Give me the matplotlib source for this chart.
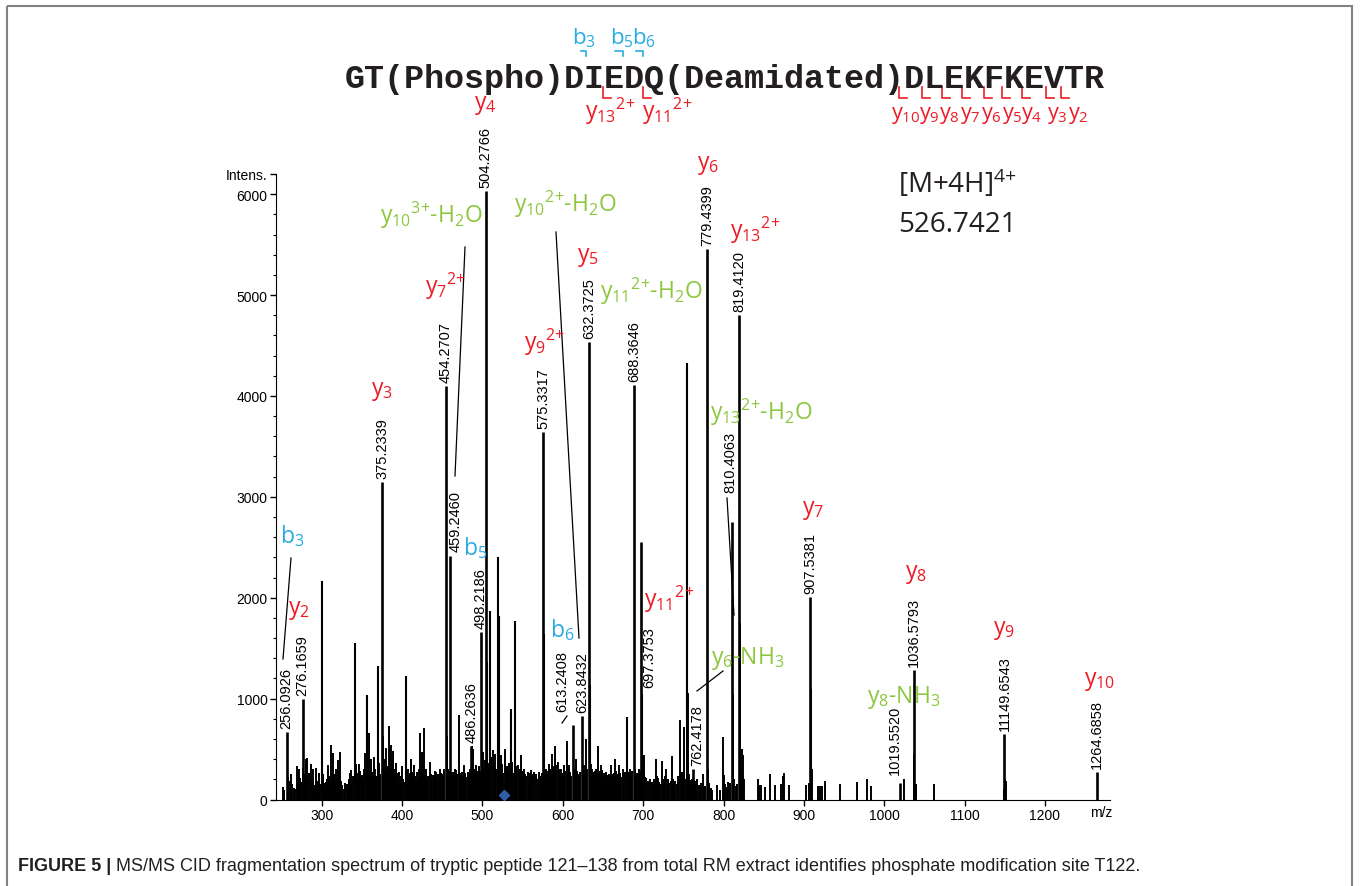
import matplotlib
matplotlib.use("Agg")
import matplotlib.pyplot as plt
import matplotlib.transforms as mtransforms
from matplotlib.lines import Line2D
from matplotlib.patches import Rectangle
from matplotlib.ticker import MultipleLocator

W, H = 1360, 887

RED = "#ED1C24"
BLUE = "#29ABE2"
GREEN = "#8DC63F"
INK = "#231F20"

plt.rcParams.update({
    "font.family": "Liberation Sans",
    "mathtext.default": "regular",
})

# ── Data ─────────────────────────────────────────────────────────────────────

# annotated peaks (label text kept as printed, incl. "11149.6543")
lab_mz = [256.0926, 276.1659, 375.2339, 454.2707, 459.2460, 486.2636, 498.2186,
          504.2766, 575.3317, 613.2408, 623.8432, 632.3725, 688.3646, 697.3753,
          762.4178, 779.4399, 810.4063, 819.4120, 907.5381, 1019.5520, 1036.5793,
          1149.6543, 1264.6858]
lab_int = [665, 1000, 3150, 4100, 2415, 530, 1660,
           6030, 3640, 735, 825, 4530, 4110, 2550,
           300, 5455, 2750, 4800, 2005, 160, 1287,
           649, 269]
lab_txt = ["256.0926", "276.1659", "375.2339", "454.2707", "459.2460", "486.2636",
           "498.2186", "504.2766", "575.3317", "613.2408", "623.8432", "632.3725",
           "688.3646", "697.3753", "762.4178", "779.4399", "810.4063", "819.4120",
           "907.5381", "1019.5520", "1036.5793", "11149.6543", "1264.6858"]

# larger unlabelled peaks
big_mz = [299.8, 340.9, 355.8, 369.9, 404.8, 505.2, 509.3, 518.9, 520.2,
          535.1, 540.5, 576.6, 633.8, 679.5, 698.4, 754.2]
big_int = [2169, 1551, 1036, 1326, 1227, 1360, 1865, 2403, 1822,
           897, 1772, 1640, 1138, 815, 1050, 4323]

# small peaks / chemical noise
noise_mz = [
    251.8, 253.2, 257.4, 258.3, 260.5, 261.3, 262.8, 264.9, 267.1, 269.5,
    270.8, 271.6, 273.4, 274.3, 277.2, 278.1, 279.6, 280.7, 282.2, 283.5,
    284.6, 286.1, 287.3, 288.7, 290.1, 291.2, 292.8, 294.1, 295.3, 296.6,
    297.5, 300.8, 302.0, 303.1, 304.4, 305.6, 306.9, 308.1, 309.3, 310.5,
    311.6, 312.8, 313.9, 315.2, 316.3, 317.6, 318.8, 320.0, 321.1, 322.6,
    323.7, 325.0, 327.4, 329.4, 331.0, 332.3, 333.9, 335.2, 336.6, 337.8,
    339.0, 342.0, 342.9, 343.9, 345.1, 346.5, 347.7, 349.0, 350.2, 351.5,
    352.6, 353.6, 356.9, 357.7, 358.6, 359.7, 361.2, 362.4, 363.6, 364.7,
    365.8, 367.0, 368.1, 371.0, 371.8, 373.0, 376.2, 377.2, 378.3, 379.5,
    380.3, 381.6, 382.7, 383.7, 384.8, 385.9, 387.0, 388.4, 389.6, 390.8,
    392.5, 393.8, 395.0, 396.6, 397.8, 399.0, 400.2, 401.5, 402.7, 405.9,
    406.6, 407.7, 409.0, 410.2, 411.3, 412.6, 413.8, 414.7, 416.0, 417.2,
    418.3, 419.6, 420.7, 421.7, 423.0, 424.1, 425.4, 426.5, 427.6, 428.8,
    430.0, 431.2, 432.6, 434.1, 435.3, 436.5, 438.2, 439.4, 440.6, 442.4,
    443.5, 444.7, 446.5, 447.6, 448.8, 449.8, 451.0, 452.2, 455.6, 456.8,
    458.0, 460.5, 461.7, 463.1, 464.2, 465.4, 467.2, 468.3, 470.2, 471.5,
    472.6, 473.5, 474.7, 476.0, 477.6, 478.8, 480.0, 481.8, 483.0, 484.2,
    487.4, 488.6, 489.8, 491.0, 492.1, 493.3, 494.5, 495.7, 496.5, 499.4,
    500.4, 501.6, 502.8, 506.4, 507.2, 510.4, 511.2, 512.8, 514.0, 515.8,
    517.0, 521.3, 522.0, 523.2, 524.4, 525.6, 528.6, 529.8, 531.0, 532.2,
    533.3, 535.9, 536.9, 538.2, 541.6, 542.3, 544.0, 545.2, 546.4, 548.1,
    549.4, 550.6, 552.2, 553.4, 554.6, 556.4, 557.6, 558.8, 560.5, 561.7,
    562.9, 564.7, 566.0, 567.2, 568.6, 570.0, 571.3, 572.5, 573.6, 577.6,
    579.2, 580.4, 581.7, 583.3, 584.5, 585.6, 586.7, 588.0, 589.2, 590.8,
    592.0, 593.7, 594.9, 596.1, 597.9, 599.2, 600.6, 602.0, 603.3, 605.3,
    606.6, 608.2, 609.5, 610.7, 614.6, 616.5, 617.7, 618.8, 620.6, 621.8,
    625.0, 626.9, 628.0, 629.0, 630.2, 635.3, 636.5, 637.2, 638.6, 640.0,
    641.2, 642.4, 643.5, 644.8, 646.0, 647.6, 648.9, 650.2, 651.6, 652.7,
    653.8, 655.0, 656.4, 657.7, 659.0, 660.0, 661.3, 662.6, 663.8, 665.4,
    666.7, 667.8, 669.0, 670.4, 671.6, 672.7, 674.5, 675.8, 677.0, 680.0,
    681.4, 682.8, 684.0, 685.2, 686.4, 689.6, 690.8, 692.0, 693.4, 694.6,
    695.6, 699.5, 700.5, 701.6, 702.8, 704.0, 705.4, 706.6, 708.0, 709.3,
    710.5, 711.7, 713.0, 714.2, 715.5, 716.6, 717.8, 718.8, 720.2, 721.5,
    723.6, 724.8, 726.0, 727.3, 729.0, 730.3, 731.5, 732.5, 734.0, 736.0,
    737.4, 738.8, 740.2, 741.6, 743.0, 745.8, 747.0, 748.3, 749.6, 750.8,
    752.4, 756.0, 757.2, 758.0, 759.6, 761.0, 764.0, 765.3, 767.3, 769.0,
    770.5, 772.0, 774.0, 776.0, 777.5, 781.0, 782.5, 784.0, 786.0, 791.4,
    795.0, 799.7, 800.5, 802.0, 804.0, 806.0, 808.0, 811.4, 813.0, 815.0,
    817.0, 820.4, 821.5, 822.4, 823.7, 825.4, 842.4, 843.6, 847.0, 852.0,
    858.0, 864.0, 872.0, 874.0, 875.5, 881.0, 903.0, 906.5, 908.5, 909.5,
    917.0, 920.0, 922.0, 926.0, 945.0, 966.0, 978.0, 984.0, 1024.8, 1037.6,
    1038.6, 1040.0, 1062.0, 1148.5, 1150.6, 1151.6,
]
noise_int = [
    120, 90, 140, 220, 180, 250, 150, 110, 100, 330,
    260, 300, 210, 170, 310, 250, 180, 400, 410, 260,
    200, 350, 160, 300, 140, 120, 310, 180, 120, 260,
    150, 380, 250, 160, 120, 170, 200, 340, 230, 150,
    540, 180, 460, 250, 170, 300, 210, 390, 260, 470,
    180, 140, 100, 160, 150, 120, 200, 260, 290, 180,
    230, 300, 350, 260, 190, 350, 280, 210, 240, 180,
    300, 460, 410, 300, 660, 250, 400, 270, 220, 420,
    300, 230, 180, 310, 360, 250, 630, 400, 290, 220,
    510, 330, 280, 730, 500, 540, 420, 480, 300, 250,
    360, 220, 260, 270, 190, 230, 330, 200, 170, 280,
    220, 300, 190, 260, 400, 270, 200, 340, 230, 180,
    270, 200, 300, 660, 280, 470, 250, 330, 710, 240,
    300, 200, 230, 370, 250, 190, 240, 210, 280, 270,
    200, 250, 300, 230, 260, 250, 220, 300, 630, 300,
    280, 270, 260, 270, 230, 300, 290, 250, 840, 260,
    210, 240, 270, 230, 340, 260, 220, 270, 250, 300,
    530, 500, 300, 260, 340, 280, 250, 330, 280, 330,
    470, 300, 390, 360, 280, 420, 380, 490, 330, 450,
    300, 320, 280, 440, 350, 260, 500, 300, 330, 280,
    360, 310, 370, 260, 330, 300, 340, 260, 300, 440,
    280, 240, 300, 250, 230, 270, 210, 260, 290, 230,
    250, 270, 220, 250, 200, 270, 230, 200, 260, 300,
    300, 250, 280, 350, 300, 260, 450, 330, 300, 530,
    340, 370, 300, 260, 300, 230, 260, 340, 280, 580,
    300, 340, 270, 230, 300, 400, 280, 250, 240, 270,
    300, 340, 250, 600, 300, 350, 300, 270, 240, 280,
    300, 230, 530, 280, 250, 340, 290, 230, 260, 220,
    270, 240, 200, 250, 230, 340, 250, 220, 260, 400,
    280, 230, 250, 340, 260, 220, 300, 250, 270, 300,
    250, 270, 300, 240, 280, 300, 260, 230, 260, 300,
    280, 300, 440, 250, 220, 210, 180, 150, 200, 160,
    170, 140, 200, 180, 400, 230, 190, 210, 170, 150,
    380, 200, 160, 230, 300, 200, 150, 165, 180, 435,
    200, 140, 180, 155, 230, 790, 250, 270, 230, 720,
    200, 1060, 250, 190, 170, 200, 180, 150, 200, 140,
    120, 160, 250, 120, 130, 300, 160, 110, 90, 140,
    90, 620, 240, 150, 120, 170, 160, 1050, 200, 130,
    150, 1750, 300, 500, 440, 200, 200, 140, 140, 120,
    250, 140, 150, 230, 260, 140, 140, 160, 1100, 300,
    130, 130, 130, 180, 150, 170, 200, 130, 200, 455,
    150, 150, 150, 100, 200, 180,
]

SEQUENCE = "GT(Phospho)DIEDQ(Deamidated)DLEKFKEVTR"
PRECURSOR_MZ = 526.7421

# label displacement (pixels) for labels not sitting right on their peak
label_shift = {
    "459.2460": (6, 5),
    "613.2408": (-11, 14),
    "697.3753": (8, -145),
    "762.4178": (4, 4),
    "810.4063": (-2, 30),
    "1019.5520": (-5, 9),
}

# ion annotations: text, colour, left x / baseline y in image pixels
# ({+} keeps mathtext from spacing the plus sign as an operator)
ion_txt = ["y$_{3}$", "y$_{7}{}^{2{+}}$", "y$_{10}{}^{3{+}}$-H$_{2}$O",
           "y$_{10}{}^{2{+}}$-H$_{2}$O", "y$_{5}$", "y$_{11}{}^{2{+}}$-H$_{2}$O",
           "y$_{9}{}^{2{+}}$", "y$_{6}$", "y$_{13}{}^{2{+}}$",
           "y$_{13}{}^{2{+}}$-H$_{2}$O", "y$_{7}$", "y$_{8}$", "y$_{9}$",
           "y$_{10}$", "y$_{11}{}^{2{+}}$", "y$_{6}$-NH$_{3}$",
           "y$_{8}$-NH$_{3}$", "b$_{3}$", "y$_{2}$", "b$_{5}$", "b$_{6}$",
           "y$_{4}$", "y$_{13}{}^{2{+}}$", "y$_{11}{}^{2{+}}$",
           "y$_{10}$", "y$_{9}$", "y$_{8}$", "y$_{7}$", "y$_{6}$", "y$_{5}$",
           "y$_{4}$", "y$_{3}$", "y$_{2}$",
           "b$_{3}$", "b$_{5}$", "b$_{6}$"]
ion_col = [RED, RED, GREEN, GREEN, RED, GREEN, RED, RED, RED, GREEN, RED, RED,
           RED, RED, RED, GREEN, GREEN, BLUE, RED, BLUE, BLUE,
           RED, RED, RED] + [RED] * 9 + [BLUE] * 3
ion_x = [371, 425, 380, 514, 577, 600, 524, 697, 730, 710, 802, 905, 993,
         1084, 644, 711, 867, 280, 288, 463, 550,
         474, 585, 642,
         891, 919, 939, 960, 981, 1002, 1021, 1047, 1068,
         572, 610, 632]
ion_y = [395, 294, 223, 212, 261, 299, 350, 169, 238, 420, 514, 578, 634,
         685, 607, 664, 703, 543, 614, 555, 637,
         109, 119, 119] + [119] * 9 + [44] * 3
ion_size = [16.5] * 24 + [15.5] * 9 + [16] * 3

# leader lines (image pixels)
leaders = [((291, 283), (559, 660)), ((465, 455), (248, 477)),
           ((556, 579), (233, 639)), ((727, 734), (499, 616)),
           ((723, 697), (672, 692)), ((562, 567), (724, 717))]

# fragment brackets on the sequence (image pixels)
b_brackets = [(581, 586), (615, 623), (636, 643)]
y_brackets = [603, 643, 899, 922, 942, 962, 984, 1002, 1022, 1046, 1061]

# ── Figure ───────────────────────────────────────────────────────────────────

fig = plt.figure(figsize=(W / 100, H / 100), dpi=100)
ax = fig.add_axes([276 / W, 1 - 800.5 / H, (1110 - 276) / W, (800.5 - 175) / H])
PX = mtransforms.Affine2D().scale(1 / W, -1 / H).translate(0, 1) + fig.transFigure

ax.vlines(noise_mz, 0, noise_int, color="black", lw=1.4)
ax.vlines(big_mz, 0, big_int, color="black", lw=1.5)
ax.vlines(lab_mz, 0, lab_int, color="black", lw=1.9)
ax.plot([PRECURSOR_MZ], [45], marker="D", ms=5, color="#2E5FA8", zorder=4)

for mz, inten, txt in zip(lab_mz, lab_int, lab_txt):
    dx, dy = label_shift.get(txt, (0, 4))
    ax.annotate(txt, xy=(mz, inten), xytext=(dx, dy), textcoords="offset pixels",
                rotation=90, ha="center", va="bottom", fontsize=10.5,
                annotation_clip=False)

ax.set_xlim(243, 1281)
ax.set_ylim(0, 6200)
ax.set_xticks(range(300, 1201, 100))
ax.set_yticks(list(range(0, 6001, 1000)) + [6200])
ax.set_yticklabels([str(v) for v in range(0, 6001, 1000)] + ["Intens."])
ax.yaxis.set_minor_locator(MultipleLocator(200))
ax.tick_params(direction="out", length=4, width=1, labelsize=10, pad=2)
ax.tick_params(which="minor", direction="out", length=2.5, width=0.8)
for s in ("top", "right"):
    ax.spines[s].set_visible(False)
ax.annotate("m/z", xy=(1, 0), xycoords="axes fraction", xytext=(2, -6),
            textcoords="offset pixels", ha="right", va="top", fontsize=10)

# ion labels
for txt, col, x, y, fs in zip(ion_txt, ion_col, ion_x, ion_y, ion_size):
    fig.text(x, y, txt, transform=PX, color=col, fontsize=fs,
             family="Open Sans", ha="left", va="baseline")

for xs, ys in leaders:
    fig.add_artist(Line2D(xs, ys, transform=PX, color="black", lw=0.9))

# peptide sequence with fragment brackets
fig.text(345, 88, SEQUENCE, transform=PX, family="Liberation Mono",
         fontweight="bold", fontsize=24, color=INK, va="baseline")
for x0, x1 in b_brackets:
    fig.add_artist(Line2D([x0, x1, x1], [52, 52, 57], transform=PX, color=BLUE, lw=1.2))
for x0 in y_brackets:
    fig.add_artist(Line2D([x0, x0, x0 + 8], [88, 99, 99], transform=PX, color=RED, lw=1.2))

fig.text(898, 193, "[M+4H]$^{4{+}}$", transform=PX, family="Open Sans",
         fontsize=20, color=INK, va="baseline")
fig.text(898, 232, f"{PRECURSOR_MZ:.4f}", transform=PX, family="Open Sans",
         fontsize=20, color=INK, va="baseline")

# frame and caption
fig.add_artist(Rectangle((7, 7), 1345, 900, transform=PX, fill=False,
                         ec="#808285", lw=1.5))
t1 = fig.text(18, 871, "FIGURE 5 |", transform=PX, fontweight="bold",
              fontsize=13, color=INK, va="baseline")
bb = t1.get_window_extent(fig.canvas.get_renderer())
fig.text(bb.x1 + 5, 871,
         "MS/MS CID fragmentation spectrum of tryptic peptide 121\u2013138 from total RM "
         "extract identifies phosphate modification site T122.",
         transform=mtransforms.blended_transform_factory(mtransforms.IdentityTransform(), PX),
         fontsize=13, color=INK, va="baseline")

fig.savefig("out.png", dpi=100)
